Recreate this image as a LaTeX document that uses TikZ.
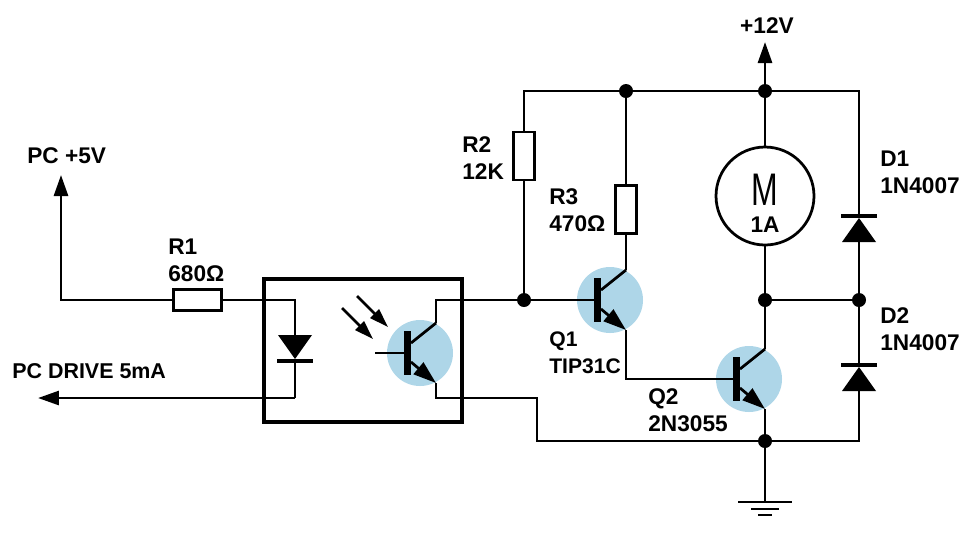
\documentclass[tikz,border=0pt]{standalone}
\usepackage{fontspec}
\setmainfont{Liberation Sans}
\usetikzlibrary{arrows.meta}

\definecolor{qblue}{RGB}{174,214,232}

\tikzset{
  wire/.style={line width=0.055cm},
  bigarrow/.style={wire,-{Triangle[length=0.42cm,width=0.28cm]}},
  photoarrow/.style={wire,-{Triangle[length=0.38cm,width=0.24cm]}},
  dot/.style={circle,fill=black,inner sep=0pt,minimum size=0.28cm},
  res/.style={draw,line width=0.05cm,fill=white,inner sep=0pt},
  lbl/.style={font=\bfseries\fontsize{12.9}{15.3}\selectfont,align=left,anchor=west,inner sep=0pt},
  npn/.pic={
    \fill[qblue] (0,0) circle (33);
    \coordinate (-b) at (-13,0);
    \fill (-16.5,-22) rectangle (-9.5,22);
    \draw[wire] (-9,-10) -- (16,-30) coordinate (-c);
    \draw[wire,-{Triangle[length=0.46cm,width=0.3cm]}] (-9,9) -- (16,30) coordinate (-e);
  },
  diode/.pic={
    \coordinate (-a) at (0,-13);
    \coordinate (-k) at (0,13);
    \fill (-17,-13) -- (17,-13) -- (0,11) -- cycle;
    \draw[line width=0.07cm] (-18,13) -- (18,13);
  },
  ground/.pic={
    \draw[wire] (-27,0) -- (27,0);
    \draw[wire] (-14,7) -- (14,7);
    \draw[wire] (-7,13) -- (7,13);
  }
}

\begin{document}
\begin{tikzpicture}[x=0.02cm,y=-0.02cm]
  \useasboundingbox (0,0) rectangle (979,559);

  % junctions and corners
  \node[dot] (j1) at (626,91) {};
  \node[dot] (j2) at (765,91) {};
  \node[dot] (j3) at (765,300) {};
  \node[dot] (j4) at (859,300) {};
  \node[dot] (j5) at (765,441) {};
  \node[dot] (j6) at (524,300) {};
  \coordinate (vcc) at (765,42);
  \coordinate (pcv) at (61,175);
  \coordinate (pcd) at (38,398);
  \coordinate (ot) at (295,300);
  \coordinate (ob) at (295,398);
  \coordinate (rt) at (537,398);
  \coordinate (gnd) at (765,502);
  \coordinate (lead) at (375,353);
  \coordinate (pa1) at (357,296);
  \coordinate (pb1) at (388,327);
  \coordinate (pa2) at (342,308);
  \coordinate (pb2) at (373,339);

  % parts
  \node[res,minimum width=0.96cm,minimum height=0.42cm] (r1) at (197.5,300) {};
  \node[res,minimum width=0.42cm,minimum height=0.96cm] (r2) at (524,156) {};
  \node[res,minimum width=0.42cm,minimum height=0.96cm] (r3) at (626,209.5) {};
  \node[draw,wire,circle,inner sep=0pt,minimum size=1.96cm] (m) at (765,196) {};
  \node[draw,line width=0.08cm,minimum width=3.96cm,minimum height=2.86cm,inner sep=0pt] (box) at (363,350.5) {};
  \pic (qo) at (420,353) {npn};
  \pic (q1) at (610,300) {npn};
  \pic (q2) at (749,379) {npn};
  \pic (do) at (295,348) {diode};
  \pic[rotate=180] (d1) at (859,229) {diode};
  \pic[rotate=180] (d2) at (859,378) {diode};
  \pic (g) at (gnd) {ground};

  % wires
  \draw[bigarrow] (r1.west) -| (pcv);
  \draw[wire] (r1.east) -- (ot) -- (do-a);
  \draw[wire] (do-k) -- (ob);
  \draw[bigarrow] (ob) -- (pcd);
  \draw[wire] (lead) -- (qo-b);
  \draw[photoarrow] (pa1) -- (pb1);
  \draw[photoarrow] (pa2) -- (pb2);
  \draw[wire] (qo-c) |- (j6);
  \draw[wire] (qo-e) |- (rt) |- (j5);
  \draw[wire] (j6) -- (q1-b);
  \draw[wire] (j6) -- (r2.south);
  \draw[wire] (r2.north) |- (j1);
  \draw[wire] (j1) -- (j2);
  \draw[wire] (j1) -- (r3.north);
  \draw[wire] (r3.south) -- (q1-c);
  \draw[wire] (q1-e) |- (q2-b);
  \draw[bigarrow] (j2) -- (vcc);
  \draw[wire] (j2) -- (m);
  \draw[wire] (m) -- (j3);
  \draw[wire] (j3) -- (q2-c);
  \draw[wire] (q2-e) -- (j5);
  \draw[wire] (j5) -- (gnd);
  \draw[wire] (j2) -| (d1-k);
  \draw[wire] (d1-a) -- (j4);
  \draw[wire] (j3) -- (j4);
  \draw[wire] (j4) -- (d2-k);
  \draw[wire] (d2-a) |- (j5);

  % labels
  \node[lbl,anchor=center] (l12) at (767,26) {+12V};
  \node[lbl] (l5) at (27,156) {PC +5V};
  \node[lbl,font=\bfseries\fontsize{12.2}{15.3}\selectfont] (ldr) at (12,371) {PC DRIVE 5mA};
  \node[lbl] (lr1) at (168,260) {R1\\680Ω};
  \node[lbl] (lr2) at (462,158.5) {R2\\12K};
  \node[lbl] (lr3) at (549,210) {R3\\470Ω};
  \node[lbl,font=\bfseries\fontsize{12}{15.3}\selectfont] (lq1) at (549,353) {Q1\\TIP31C};
  \node[lbl] (lq2) at (648,410) {Q2\\2N3055};
  \node[lbl] (ld1) at (880,172) {D1\\1N4007};
  \node[lbl] (ld2) at (880,329) {D2\\1N4007};
  \node[xscale=0.7,font=\fontsize{26}{26}\selectfont,inner sep=0pt] (mm) at (765,190) {M};
  \node[lbl,anchor=center] (l1a) at (765,225) {1A};
\end{tikzpicture}
\end{document}
